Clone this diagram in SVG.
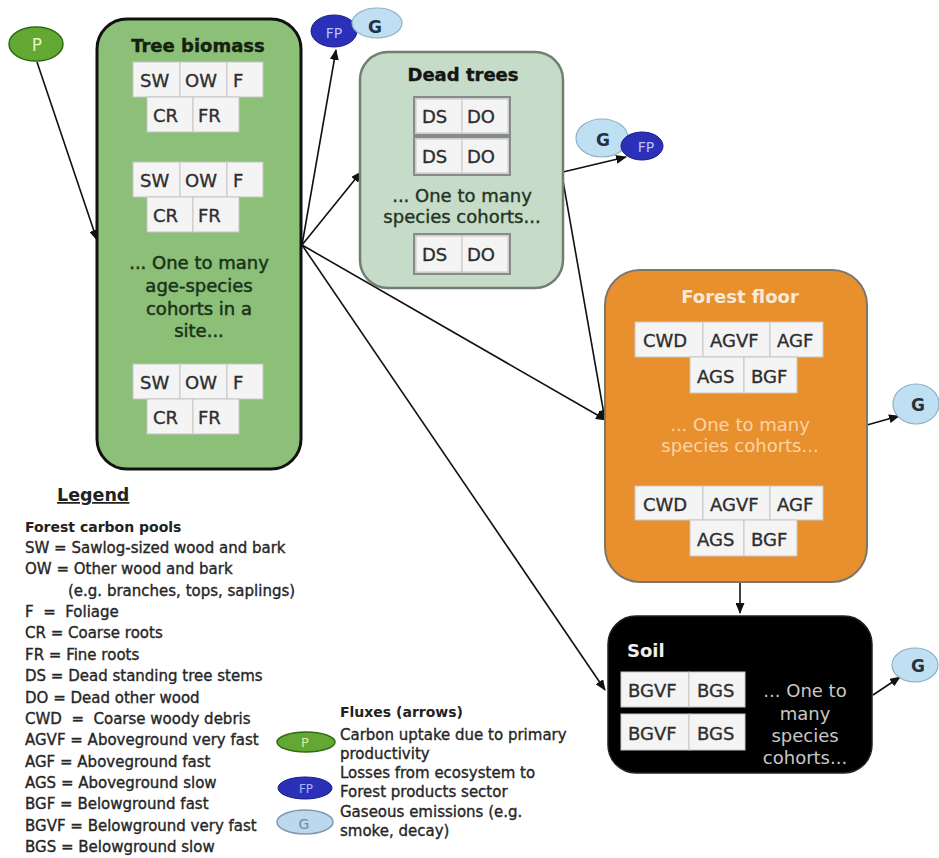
<svg xmlns="http://www.w3.org/2000/svg" width="939" height="858" viewBox="0 0 939 858">
<defs>
<marker id="ah" markerUnits="userSpaceOnUse" markerWidth="11" markerHeight="9" refX="10" refY="4.5" orient="auto">
<path d="M0,0 L11,4.5 L0,9 z" fill="#111"/>
</marker>
<style>
text{font-family:"DejaVu Sans",Verdana,sans-serif}
.title{font-size:18px;font-weight:bold;text-anchor:middle}
.cell{fill:#f4f4f4;stroke:#c6c6c6;stroke-width:1}
.ct{font-size:18px;fill:#2e2e2e;stroke:#2e2e2e;stroke-width:0.35}
.body{font-size:18px;text-anchor:middle}
.dk{stroke:#1a331a;stroke-width:0.5}
.lg{font-size:15px;fill:#262626;stroke:#262626;stroke-width:0.35}
.lgb{font-size:14px;font-weight:bold;fill:#222}
.conn{stroke:#111;stroke-width:1.6;fill:none;marker-end:url(#ah)}
.gE{fill:#bfe0f2;stroke:#8eb0c6;stroke-width:1.2}
.gT{font-size:17px;font-weight:bold;fill:#253040;text-anchor:middle}
.fpE{fill:#2b30b8;stroke:#1b1f88;stroke-width:1}
.fpT{font-size:14px;fill:#b8c2ff;text-anchor:middle}
.pE{fill:#62a832;stroke:#2f6b12;stroke-width:1.5}
.pT{font-size:17px;fill:#e4f5c8;text-anchor:middle}
</style>
</defs>
<rect width="939" height="858" fill="#ffffff"/>

<g id="connectors">
<line class="conn" x1="37" y1="62" x2="97" y2="240"/>
<line class="conn" x1="302" y1="245" x2="336" y2="50"/>
<line class="conn" x1="302" y1="245" x2="361" y2="172"/>
<line class="conn" x1="302" y1="245" x2="606" y2="420"/>
<line class="conn" x1="302" y1="245" x2="605" y2="690"/>
<line class="conn" x1="563" y1="172" x2="626" y2="157"/>
<line class="conn" x1="562" y1="175" x2="605" y2="420"/>
<line class="conn" x1="867" y1="425" x2="899" y2="416"/>
<line class="conn" x1="740" y1="582" x2="740" y2="613"/>
<line class="conn" x1="873" y1="695" x2="900" y2="677"/>
</g>

<g id="p-top">
<ellipse class="pE" cx="36" cy="44" rx="27" ry="17"/>
<text class="pT" x="37" y="51">P</text>
</g>

<g id="tree-biomass">
<rect x="97" y="19" width="204" height="450" rx="30" fill="#8cbf78" stroke="#111" stroke-width="3"/>
<text class="title" x="198" y="52" fill="#14220f" stroke="#14220f" stroke-width="0.4">Tree biomass</text>
<rect class="cell" x="133" y="62" width="47" height="35"/><rect class="cell" x="180" y="62" width="47" height="35"/><rect class="cell" x="227" y="62" width="36" height="35"/>
<rect class="cell" x="147" y="97" width="46" height="35"/><rect class="cell" x="193" y="97" width="46" height="35"/>
<text class="ct" x="140" y="87">SW</text><text class="ct" x="185" y="87">OW</text><text class="ct" x="233" y="87">F</text>
<text class="ct" x="153" y="122">CR</text><text class="ct" x="198" y="122">FR</text>
<rect class="cell" x="133" y="162" width="47" height="35"/><rect class="cell" x="180" y="162" width="47" height="35"/><rect class="cell" x="227" y="162" width="36" height="35"/>
<rect class="cell" x="147" y="197" width="46" height="35"/><rect class="cell" x="193" y="197" width="46" height="35"/>
<text class="ct" x="140" y="187">SW</text><text class="ct" x="185" y="187">OW</text><text class="ct" x="233" y="187">F</text>
<text class="ct" x="153" y="222">CR</text><text class="ct" x="198" y="222">FR</text>
<text class="body dk" x="199" y="269" fill="#1a331a">... One to many</text>
<text class="body dk" x="199" y="292" fill="#1a331a">age-species</text>
<text class="body dk" x="199" y="315" fill="#1a331a">cohorts in a</text>
<text class="body dk" x="199" y="337" fill="#1a331a">site...</text>
<rect class="cell" x="133" y="364" width="47" height="35"/><rect class="cell" x="180" y="364" width="47" height="35"/><rect class="cell" x="227" y="364" width="36" height="35"/>
<rect class="cell" x="147" y="399" width="46" height="35"/><rect class="cell" x="193" y="399" width="46" height="35"/>
<text class="ct" x="140" y="389">SW</text><text class="ct" x="185" y="389">OW</text><text class="ct" x="233" y="389">F</text>
<text class="ct" x="153" y="424">CR</text><text class="ct" x="198" y="424">FR</text>
</g>

<g id="fp-g-top">
<ellipse class="fpE" cx="334" cy="31" rx="23" ry="16"/>
<text class="fpT" x="334" y="38">FP</text>
<ellipse class="gE" cx="377" cy="23" rx="25" ry="15"/>
<text class="gT" x="375" y="33">G</text>
</g>

<g id="dead-trees">
<rect x="360" y="52" width="203" height="236" rx="28" fill="#c6dcc8" stroke="#717f71" stroke-width="2.5"/>
<text class="title" x="463" y="81" fill="#151515" stroke="#151515" stroke-width="0.4">Dead trees</text>
<rect x="414" y="97" width="96" height="38" fill="none" stroke="#8a8a8a" stroke-width="2"/>
<rect class="cell" x="416" y="99" width="46" height="34"/><rect class="cell" x="462" y="99" width="46" height="34"/>
<rect x="414" y="137" width="96" height="38" fill="none" stroke="#8a8a8a" stroke-width="2"/>
<rect class="cell" x="416" y="139" width="46" height="34"/><rect class="cell" x="462" y="139" width="46" height="34"/>
<rect x="414" y="234" width="96" height="40" fill="none" stroke="#8a8a8a" stroke-width="2"/>
<rect class="cell" x="416" y="236" width="46" height="36"/><rect class="cell" x="462" y="236" width="46" height="36"/>
<text class="ct" x="422" y="123">DS</text><text class="ct" x="467" y="123">DO</text>
<text class="ct" x="422" y="163">DS</text><text class="ct" x="467" y="163">DO</text>
<text class="ct" x="422" y="261">DS</text><text class="ct" x="467" y="261">DO</text>
<text class="body" x="462" y="202" fill="#243424" stroke="#243424" stroke-width="0.4">... One to many</text>
<text class="body" x="462" y="223" fill="#243424" stroke="#243424" stroke-width="0.4">species cohorts...</text>
</g>

<g id="g-fp-right">
<ellipse class="gE" cx="602" cy="138" rx="26" ry="19"/>
<text class="gT" x="603" y="146">G</text>
<ellipse class="fpE" cx="642" cy="146" rx="21" ry="14"/>
<text class="fpT" x="646" y="152">FP</text>
</g>

<g id="forest-floor">
<rect x="605" y="270" width="262" height="312" rx="35" fill="#e8902e" stroke="#7f766a" stroke-width="2"/>
<text class="title" x="740" y="303" fill="#f8ead8">Forest floor</text>
<rect class="cell" x="635" y="322" width="68" height="35"/><rect class="cell" x="703" y="322" width="67" height="35"/><rect class="cell" x="770" y="322" width="53" height="35"/>
<rect class="cell" x="690" y="357" width="54" height="36"/><rect class="cell" x="744" y="357" width="53" height="36"/>
<text class="ct" x="643" y="347">CWD</text><text class="ct" x="710" y="347">AGVF</text><text class="ct" x="777" y="347">AGF</text>
<text class="ct" x="697" y="383">AGS</text><text class="ct" x="751" y="383">BGF</text>
<text class="body" x="740" y="431" fill="#fcd4a4">... One to many</text>
<text class="body" x="740" y="452" fill="#fcd4a4">species cohorts...</text>
<rect class="cell" x="635" y="486" width="68" height="34"/><rect class="cell" x="703" y="486" width="67" height="34"/><rect class="cell" x="770" y="486" width="53" height="34"/>
<rect class="cell" x="690" y="520" width="54" height="36"/><rect class="cell" x="744" y="520" width="53" height="36"/>
<text class="ct" x="643" y="511">CWD</text><text class="ct" x="710" y="511">AGVF</text><text class="ct" x="777" y="511">AGF</text>
<text class="ct" x="697" y="546">AGS</text><text class="ct" x="751" y="546">BGF</text>
</g>

<g id="g-floor">
<ellipse class="gE" cx="916" cy="404" rx="23" ry="20"/>
<text class="gT" x="918" y="411">G</text>
</g>

<g id="soil">
<rect x="608" y="616" width="264" height="157" rx="28" fill="#000" stroke="#222" stroke-width="1.5"/>
<text x="627" y="657" font-size="18" font-weight="bold" fill="#eeeeee">Soil</text>
<rect class="cell" x="621" y="672" width="68" height="35"/><rect class="cell" x="689" y="672" width="56" height="35"/>
<rect class="cell" x="621" y="714" width="68" height="36"/><rect class="cell" x="689" y="714" width="56" height="36"/>
<text class="ct" x="628" y="697">BGVF</text><text class="ct" x="697" y="697">BGS</text>
<text class="ct" x="628" y="740">BGVF</text><text class="ct" x="697" y="740">BGS</text>
<text class="body" x="805" y="697" fill="#c8c8c8">... One to</text>
<text class="body" x="805" y="720" fill="#c8c8c8">many</text>
<text class="body" x="805" y="742" fill="#c8c8c8">species</text>
<text class="body" x="805" y="764" fill="#c8c8c8">cohorts...</text>
</g>

<g id="g-soil">
<ellipse class="gE" cx="915" cy="665" rx="23" ry="17"/>
<text class="gT" x="918" y="672">G</text>
</g>

<g id="legend">
<text x="57" y="501" font-size="17.5" font-weight="bold" fill="#222" text-decoration="underline">Legend</text>
<text class="lgb" x="25" y="532">Forest carbon pools</text>
<text class="lg" x="25" y="553">SW = Sawlog-sized wood and bark</text>
<text class="lg" x="25" y="574">OW = Other wood and bark</text>
<text class="lg" x="68" y="596">(e.g. branches, tops, saplings)</text>
<text class="lg" x="25" y="617" xml:space="preserve">F  =  Foliage</text>
<text class="lg" x="25" y="638">CR = Coarse roots</text>
<text class="lg" x="25" y="660">FR = Fine roots</text>
<text class="lg" x="25" y="681">DS = Dead standing tree stems</text>
<text class="lg" x="25" y="703">DO = Dead other wood</text>
<text class="lg" x="25" y="724" xml:space="preserve">CWD  =  Coarse woody debris</text>
<text class="lg" x="25" y="745">AGVF = Aboveground very fast</text>
<text class="lg" x="25" y="767">AGF = Aboveground fast</text>
<text class="lg" x="25" y="788">AGS = Aboveground slow</text>
<text class="lg" x="25" y="809">BGF = Belowground fast</text>
<text class="lg" x="25" y="831">BGVF = Belowground very fast</text>
<text class="lg" x="25" y="852">BGS = Belowground slow</text>
</g>

<g id="flux-legend">
<text class="lgb" x="340" y="717">Fluxes (arrows)</text>
<ellipse class="pE" cx="306" cy="742" rx="29" ry="10"/>
<text x="305" y="747" font-size="13" fill="#d8f0a8" text-anchor="middle">P</text>
<text class="lg" x="340" y="740">Carbon uptake due to primary</text>
<text class="lg" x="340" y="759">productivity</text>
<ellipse class="fpE" cx="305" cy="788" rx="27" ry="11"/>
<text x="306" y="793" font-size="12" fill="#a8b6ff" text-anchor="middle">FP</text>
<text class="lg" x="340" y="778">Losses from ecosystem to</text>
<text class="lg" x="340" y="797">Forest products sector</text>
<ellipse cx="305" cy="822" rx="28" ry="12" fill="#bcd8ec" stroke="#8298b0" stroke-width="1.5"/>
<text x="304" y="829" font-size="14" fill="#6f8aa0" text-anchor="middle">G</text>
<text class="lg" x="340" y="817">Gaseous emissions (e.g.</text>
<text class="lg" x="340" y="836">smoke, decay)</text>
</g>
</svg>
